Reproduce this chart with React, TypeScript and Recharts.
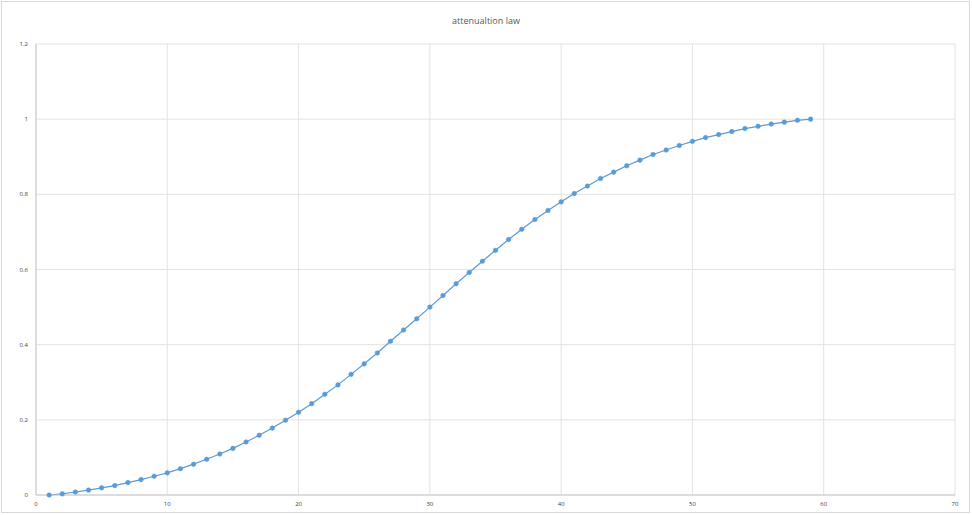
import { LineChart, Line, XAxis, YAxis, CartesianGrid } from 'recharts'

const xValues = [
  1, 2, 3, 4, 5, 6, 7, 8, 9, 10, 11, 12, 13, 14, 15, 16, 17, 18, 19, 20,
  21, 22, 23, 24, 25, 26, 27, 28, 29, 30, 31, 32, 33, 34, 35, 36, 37, 38, 39, 40,
  41, 42, 43, 44, 45, 46, 47, 48, 49, 50, 51, 52, 53, 54, 55, 56, 57, 58, 59,
]

const attenuation = [
  0, 0.003, 0.008, 0.013, 0.019, 0.025, 0.033, 0.041, 0.05, 0.059,
  0.07, 0.082, 0.095, 0.109, 0.124, 0.141, 0.159, 0.178, 0.199, 0.22,
  0.243, 0.268, 0.293, 0.321, 0.349, 0.378, 0.409, 0.439, 0.469, 0.5,
  0.531, 0.562, 0.592, 0.622, 0.651, 0.68, 0.707, 0.733, 0.757, 0.78,
  0.802, 0.822, 0.842, 0.859, 0.876, 0.891, 0.906, 0.918, 0.93, 0.941,
  0.951, 0.959, 0.967, 0.975, 0.981, 0.987, 0.992, 0.997, 1.0,
]

const xTicks = [0, 10, 20, 30, 40, 50, 60, 70]
const yTicks = [0, 0.2, 0.4, 0.6, 0.8, 1, 1.2]

const data = xValues.map((x, i) => ({ x, y: attenuation[i] }))

const font = '"Open Sans", "Liberation Sans", sans-serif'

export default function App() {
  return (
    <div style={{ position: 'absolute', left: 0, top: 0, width: 972, height: 515, background: '#fff', fontFamily: font }}>
      <div
        style={{
          position: 'absolute',
          left: 1,
          top: 1,
          width: 967,
          height: 510,
          border: '1px solid #d9d9d9',
        }}
      />
      <div
        style={{
          position: 'absolute',
          left: 0,
          top: 14,
          width: 972,
          textAlign: 'center',
          fontSize: 9,
          color: '#595959',
        }}
      >
        attenualtion law
      </div>
      <div style={{ position: 'absolute', left: 0, top: 0 }}>
        <LineChart width={972} height={515} data={data} margin={{ top: 44, right: 17, left: 6, bottom: 4 }}>
          <CartesianGrid stroke="#e3e3e3" strokeWidth={1} />
          <XAxis
            dataKey="x"
            type="number"
            domain={[0, 70]}
            ticks={xTicks}
            height={16}
            stroke="#c8c8c8"
            tickLine={false}
            tick={{ fill: '#404040', fontSize: 6, fontFamily: font }}
            tickMargin={1}
          />
          <YAxis
            type="number"
            domain={[0, 1.2]}
            ticks={yTicks}
            width={30}
            stroke="#c8c8c8"
            tickLine={false}
            tick={{ fill: '#404040', fontSize: 6, fontFamily: font }}
            tickMargin={2}
          />
          <Line
            dataKey="y"
            type="linear"
            stroke="#5b9bd5"
            strokeWidth={1.2}
            dot={{ r: 2.3, fill: '#5b9bd5', stroke: '#5b9bd5', strokeWidth: 0.5 }}
            isAnimationActive={false}
          />
        </LineChart>
      </div>
    </div>
  )
}
